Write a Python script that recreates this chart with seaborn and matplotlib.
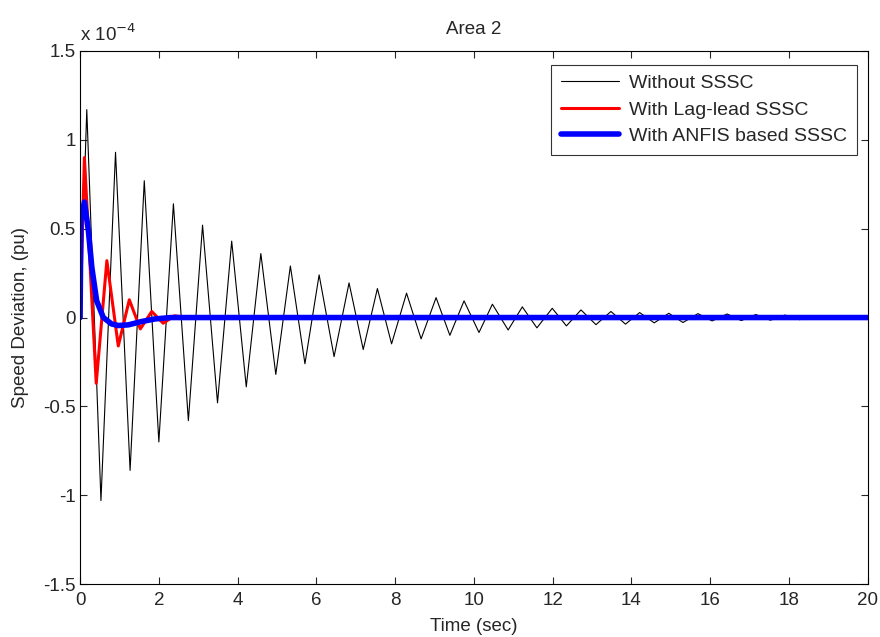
import numpy as np
import matplotlib
matplotlib.use("Agg")
import matplotlib.pyplot as plt
import seaborn as sns
from matplotlib.ticker import FuncFormatter

# values in units of 1e-4 pu
t_without = [0, 0.17, 0.53, 0.90, 1.27, 1.63, 2.00, 2.37, 2.75, 3.11, 3.49, 3.85, 4.22, 4.59,
             4.97, 5.34, 5.71, 6.07, 6.45, 6.83, 7.19, 7.55, 7.91, 8.29, 8.66, 9.04, 9.39,
             9.75, 10.13, 10.47, 10.87, 11.23, 11.60, 11.99, 12.35, 12.72, 13.10, 13.48,
             13.85, 14.21, 14.58, 14.95, 15.31, 15.69, 16.05, 16.43, 16.79, 17.16, 17.53,
             17.90, 18.27, 18.63, 19.00, 19.37, 19.74, 20.0]
y_without = [0, 1.17, -1.03, 0.93, -0.86, 0.77, -0.70, 0.64, -0.58, 0.52, -0.48, 0.43, -0.39,
             0.36, -0.32, 0.29, -0.26, 0.24, -0.22, 0.195, -0.18, 0.163, -0.148, 0.137, -0.12,
             0.112, -0.10, 0.094, -0.084, 0.075, -0.07, 0.06, -0.058, 0.052, -0.047, 0.043,
             -0.04, 0.034, -0.037, 0.028, -0.03, 0.024, -0.028, 0.022, -0.019, 0.02, -0.017,
             0.017, -0.015, 0.014, -0.012, 0.011, -0.01, 0.009, -0.008, 0.0]

t_laglead = [0, 0.11, 0.41, 0.68, 0.97, 1.25, 1.53, 1.82, 2.11, 2.40, 2.70, 20]
y_laglead = [0, 0.90, -0.37, 0.32, -0.16, 0.10, -0.064, 0.034, -0.032, 0.01, 0, 0]

t_anfis = [0, 0.02, 0.11, 0.21, 0.30, 0.42, 0.59, 0.80, 0.97, 1.23, 1.57, 1.90, 2.30, 20]
y_anfis = [0, 0.55, 0.65, 0.49, 0.28, 0.095, 0.0, -0.036, -0.045, -0.041, -0.022, -0.008, 0, 0]

sns.set_style("ticks")
plt.rcParams['font.family'] = ['Liberation Sans', 'DejaVu Sans']
fs = 13.5

fig, ax = plt.subplots(figsize=(8.8, 6.37), dpi=100)
fig.subplots_adjust(left=0.091, right=0.986, bottom=0.083, top=0.92)

sns.lineplot(x=t_without, y=y_without, sort=False, estimator=None, color="black",
             linewidth=0.8, label="Without SSSC", ax=ax)
sns.lineplot(x=t_laglead, y=y_laglead, sort=False, estimator=None, color="red",
             linewidth=2.2, label="With Lag-lead SSSC", ax=ax)
sns.lineplot(x=t_anfis, y=y_anfis, sort=False, estimator=None, color="blue",
             linewidth=4, label="With ANFIS based SSSC", ax=ax)

ax.set_xlim(0, 20)
ax.set_ylim(-1.5, 1.5)
ax.set_xticks(np.arange(0, 21, 2))
ax.set_yticks(np.arange(-1.5, 1.51, 0.5))
ax.yaxis.set_major_formatter(FuncFormatter(lambda v, p: "%g" % v))
ax.tick_params(direction="in", top=True, right=True, labelsize=fs, length=5, width=0.8)
ax.tick_params(axis="x", pad=6)
ax.tick_params(axis="y", pad=3)
for s in ax.spines.values():
    s.set_linewidth(0.8)
    s.set_color("black")

ax.text(0.0, 1.012, r"x 10$^{-4}$", transform=ax.transAxes, fontsize=fs, ha="left", va="bottom")
ax.set_title("Area 2", fontsize=fs, pad=12)
ax.set_xlabel("Time (sec)", fontsize=fs, labelpad=6)
ax.set_ylabel("Speed Deviation, (pu)", fontsize=fs, labelpad=10)

leg = ax.legend(loc="upper right", fontsize=14, frameon=True, fancybox=False,
                edgecolor="black", handlelength=3.0, borderpad=0.5, labelspacing=0.45,
                handletextpad=0.5, borderaxespad=0, bbox_to_anchor=(0.986, 0.974))
leg.get_frame().set_linewidth(0.8)

fig.savefig("out.png", dpi=100)
